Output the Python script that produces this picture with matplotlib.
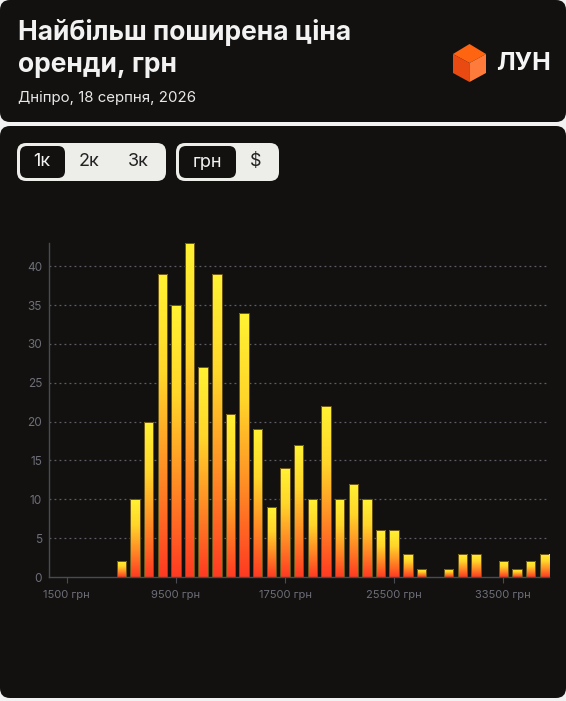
import numpy as np
import matplotlib
matplotlib.use("Agg")
import matplotlib.pyplot as plt
from matplotlib.patches import FancyBboxPatch, Polygon
from matplotlib.colors import LinearSegmentedColormap

plt.rcParams['font.family'] = ['Inter', 'DejaVu Sans']

# ціни (центри кошиків по 1000 грн) і кількість оголошень
prices = list(range(1500, 37500, 1000))
counts = [0, 0, 0, 0, 2, 10, 20, 39, 35, 43, 27, 39, 21, 34, 19, 9, 14, 17,
          10, 22, 10, 12, 10, 6, 6, 3, 1, 0, 1, 3, 3, 0, 2, 1, 2, 3]
tick_vals = [1500, 9500, 17500, 25500, 33500]
tick_labels = [f"{v} грн" for v in tick_vals]
y_ticks = [0, 5, 10, 15, 20, 25, 30, 35, 40]

W, H = 566, 701
fig = plt.figure(figsize=(W / 100, H / 100), dpi=100)
fig.patch.set_facecolor('#f2f2f2')

card = '#121110'

def px(x, y):
    return x / W, 1 - y / H

def rbox(x0, y0, x1, y1, fc, r=8, z=0):
    p = FancyBboxPatch((x0 / W, 1 - y1 / H), (x1 - x0) / W, (y1 - y0) / H,
                       boxstyle=f"round,pad=0,rounding_size={r / W}",
                       transform=fig.transFigure, facecolor=fc, edgecolor='none',
                       mutation_aspect=W / H, zorder=z)
    fig.patches.append(p)

# картки
rbox(0, 0, 566, 122, card, 10, -2)
rbox(0, 126, 566, 698, card, 10, -2)

# заголовок
fig.text(*px(18, 32), "Найбільш поширена ціна", color='#f2f2f2', fontsize=19,
         fontweight='bold', va='center', ha='left')
fig.text(*px(18, 65), "оренди, грн", color='#f2f2f2', fontsize=19,
         fontweight='bold', va='center', ha='left')
fig.text(*px(18, 98), "Дніпро, 18 серпня, 2026", color='#e8e8e8', fontsize=10.8,
         va='center', ha='left')

# логотип
cx = 469.5
top = [(cx, 44), (486, 54), (cx, 63), (453, 54)]
left = [(453, 54), (cx, 63), (cx, 82), (453, 73)]
right = [(cx, 63), (486, 54), (486, 73), (cx, 82)]
for pts, c in [(top, '#ff6410'), (left, '#e84a12'), (right, '#ff7b3c')]:
    fig.patches.append(Polygon([px(a, b) for a, b in pts], closed=True,
                               transform=fig.transFigure, facecolor=c, edgecolor='none'))
fig.text(*px(496, 63), "ЛУН", color='#f5f5f5', fontsize=18, fontweight='bold',
         va='center', ha='left')

# перемикачі
rbox(17, 143, 166, 181, '#ededea', 9)
rbox(20, 146, 65, 178, card, 7)
rbox(176, 143, 279, 181, '#ededea', 9)
rbox(179, 146, 236, 178, card, 7)
for x, t, c in [(42, "1к", '#f2f2f2'), (89, "2к", '#222222'), (138, "3к", '#222222'),
                (207, "грн", '#f2f2f2'), (256, "$", '#222222')]:
    fig.text(*px(x, 162), t, color=c, fontsize=13, va='center', ha='center')

# графік
ax = fig.add_axes([49 / W, (H - 577) / H, (549 - 49) / W, (577 - 243) / H])
ax.set_zorder(2)
ax.set_facecolor('none')

cmap = LinearSegmentedColormap.from_list('g', ['#ff3a22', '#ff8a25', '#ffd52a', '#fff233'])
grad = np.linspace(0, 1, 256).reshape(-1, 1)
bw = 690
for p, c in zip(prices, counts):
    if c == 0:
        continue
    im = ax.imshow(grad, cmap=cmap, origin='lower', aspect='auto',
                   extent=[p - bw / 2, p + bw / 2, 0, c], zorder=3)
    rect = plt.Rectangle((p - bw / 2, 0), bw, c, facecolor='none',
                         edgecolor='#6a5518', lw=0.7, zorder=4)
    ax.add_patch(rect)
    im.set_clip_path(rect)
ax.set_xlim(200, 36850)
ax.set_ylim(0, 43)

for y in y_ticks[1:]:
    ax.axhline(y, color='#5e5e66', lw=0.9, dashes=(1.5, 2.5), zorder=1)

for s in ['top', 'right']:
    ax.spines[s].set_visible(False)
for s in ['left', 'bottom']:
    ax.spines[s].set_color('#4a4a54')
    ax.spines[s].set_linewidth(1)
ax.spines['bottom'].set_zorder(5)

ax.set_xticks(tick_vals)
ax.set_xticklabels(tick_labels)
ax.set_yticks(y_ticks)
ax.tick_params(axis='x', colors='#4a4a54', labelcolor='#6e6e78', length=4,
               labelsize=8, pad=5)
ax.tick_params(axis='y', length=0, labelcolor='#6e6e78', labelsize=8.5, pad=5)

fig.savefig("out.png", dpi=100, facecolor=fig.get_facecolor())
